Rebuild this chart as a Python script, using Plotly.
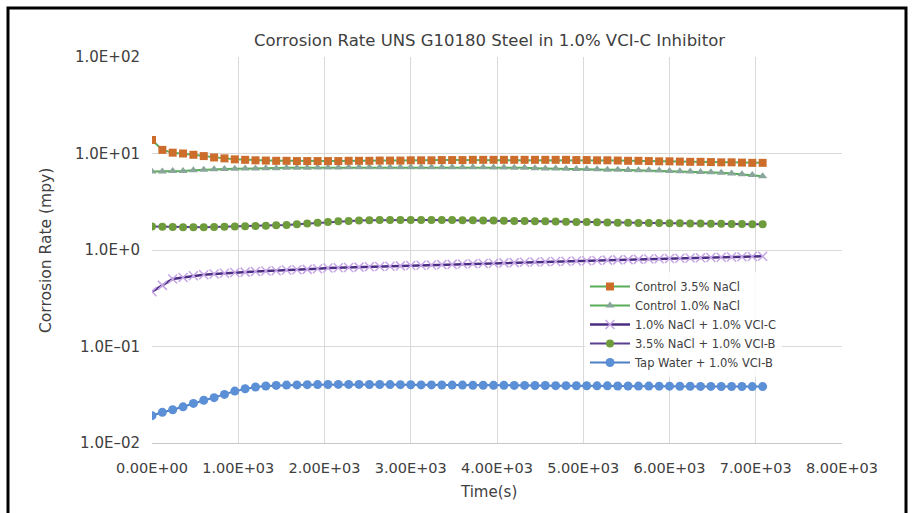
import plotly.graph_objects as go

# Sampling times (s)
time_s = [0, 120, 240, 360, 480, 600, 720, 840, 960, 1080,
          1200, 1320, 1440, 1560, 1680, 1800, 1920, 2040, 2160, 2280,
          2400, 2520, 2640, 2760, 2880, 3000, 3120, 3240, 3360, 3480,
          3600, 3720, 3840, 3960, 4080, 4200, 4320, 4440, 4560, 4680,
          4800, 4920, 5040, 5160, 5280, 5400, 5520, 5640, 5760, 5880,
          6000, 6120, 6240, 6360, 6480, 6600, 6720, 6840, 6960, 7080]

# Corrosion rates (mpy)
control_35_nacl = [13.8, 10.9, 10.2, 10.0, 9.7, 9.4, 9.1, 8.9, 8.7, 8.6,
                   8.5, 8.45, 8.4, 8.4, 8.35, 8.35, 8.35, 8.35, 8.35, 8.4,
                   8.4, 8.4, 8.45, 8.45, 8.45, 8.5, 8.5, 8.5, 8.55, 8.55,
                   8.55, 8.6, 8.6, 8.6, 8.6, 8.6, 8.6, 8.6, 8.6, 8.6,
                   8.6, 8.55, 8.55, 8.5, 8.5, 8.45, 8.4, 8.4, 8.35, 8.3,
                   8.3, 8.25, 8.2, 8.2, 8.15, 8.1, 8.1, 8.05, 8.0, 8.0]

control_10_nacl = [6.5, 6.5, 6.6, 6.6, 6.7, 6.8, 6.85, 6.9, 6.95, 7.0,
                   7.0, 7.05, 7.05, 7.1, 7.1, 7.1, 7.15, 7.15, 7.15, 7.2,
                   7.2, 7.2, 7.2, 7.2, 7.2, 7.2, 7.2, 7.2, 7.2, 7.2,
                   7.2, 7.2, 7.2, 7.15, 7.15, 7.1, 7.1, 7.05, 7.0, 7.0,
                   6.95, 6.9, 6.9, 6.85, 6.8, 6.8, 6.75, 6.7, 6.7, 6.65,
                   6.6, 6.55, 6.5, 6.45, 6.4, 6.3, 6.2, 6.1, 6.0, 5.8]

nacl_10_vci_c = [0.37, 0.43, 0.50, 0.52, 0.54, 0.555, 0.565, 0.575, 0.585, 0.59,
                 0.60, 0.605, 0.61, 0.62, 0.625, 0.63, 0.64, 0.65, 0.655, 0.66,
                 0.665, 0.67, 0.675, 0.68, 0.685, 0.69, 0.695, 0.70, 0.705, 0.71,
                 0.715, 0.72, 0.725, 0.73, 0.735, 0.74, 0.745, 0.75, 0.755, 0.76,
                 0.765, 0.77, 0.775, 0.78, 0.785, 0.79, 0.795, 0.80, 0.805, 0.81,
                 0.815, 0.82, 0.825, 0.83, 0.835, 0.84, 0.845, 0.85, 0.855, 0.86]

nacl_35_vci_b = [1.75, 1.74, 1.73, 1.72, 1.72, 1.72, 1.73, 1.74, 1.75, 1.76,
                 1.77, 1.78, 1.80, 1.82, 1.85, 1.88, 1.92, 1.95, 1.98, 2.0,
                 2.02, 2.03, 2.04, 2.05, 2.05, 2.05, 2.05, 2.05, 2.04, 2.04,
                 2.03, 2.03, 2.02, 2.02, 2.01, 2.0, 2.0, 1.99, 1.98, 1.97,
                 1.96, 1.95, 1.95, 1.94, 1.93, 1.92, 1.92, 1.91, 1.90, 1.90,
                 1.89, 1.89, 1.88, 1.88, 1.87, 1.87, 1.86, 1.86, 1.85, 1.85]

tap_water_vci_b = [0.0192, 0.0208, 0.0221, 0.0237, 0.0257, 0.0277, 0.0295, 0.0319, 0.0345, 0.0365,
                   0.0380, 0.0390, 0.0395, 0.0398, 0.0400, 0.0402, 0.0403, 0.0404, 0.0405, 0.0405,
                   0.0405, 0.0404, 0.0404, 0.0403, 0.0402, 0.0401, 0.0400, 0.0400, 0.0399, 0.0398,
                   0.0398, 0.0397, 0.0397, 0.0396, 0.0396, 0.0395, 0.0395, 0.0394, 0.0394, 0.0393,
                   0.0393, 0.0392, 0.0392, 0.0391, 0.0391, 0.0390, 0.0390, 0.0389, 0.0389, 0.0388,
                   0.0388, 0.0387, 0.0387, 0.0386, 0.0386, 0.0385, 0.0385, 0.0385, 0.0384, 0.0384]

x_ticks = [0, 1000, 2000, 3000, 4000, 5000, 6000, 7000, 8000]
x_tick_labels = ["0.00E+00", "1.00E+03", "2.00E+03", "3.00E+03", "4.00E+03",
                 "5.00E+03", "6.00E+03", "7.00E+03", "8.00E+03"]
y_ticks = [0.01, 0.1, 1, 10, 100]
y_tick_labels = ["1.0E\u201302", "1.0E\u201301", "1.0E+0", "1.0E+01", "1.0E+02"]

FONT = "DejaVu Sans"
TEXT = "#404040"

fig = go.Figure()

# drawn bottom-up so the control series sit on top
fig.add_trace(go.Scatter(
    x=time_s, y=tap_water_vci_b, name="Tap Water + 1.0% VCI-B", mode="lines+markers",
    line=dict(color="#4f7fc4", width=2),
    marker=dict(symbol="circle", size=9, color="#5b8fd6"),
    legendrank=5))
fig.add_trace(go.Scatter(
    x=time_s, y=nacl_35_vci_b, name="3.5% NaCl + 1.0% VCI-B", mode="lines+markers",
    line=dict(color="#5a3f8f", width=2),
    marker=dict(symbol="circle", size=8, color="#6e9b3c"),
    legendrank=4))
fig.add_trace(go.Scatter(
    x=time_s, y=nacl_10_vci_c, name="1.0% NaCl + 1.0% VCI-C", mode="lines+markers",
    line=dict(color="#4b2e83", width=2.5),
    marker=dict(symbol="x-thin", size=9, line=dict(color="#c6a6e6", width=1.5)),
    legendrank=3))
fig.add_trace(go.Scatter(
    x=time_s, y=control_10_nacl, name="Control 1.0% NaCl", mode="lines+markers",
    line=dict(color="#5aac5a", width=2),
    marker=dict(symbol="triangle-up", size=8, color="#8aa69a"),
    legendrank=2))
fig.add_trace(go.Scatter(
    x=time_s, y=control_35_nacl, name="Control 3.5% NaCl", mode="lines+markers",
    line=dict(color="#5aac5a", width=2),
    marker=dict(symbol="square", size=8, color="#cc6d2c"),
    legendrank=1))

# plot-area geometry in pixels
L, R, T, B = 152, 842, 57, 443
W, H = R - L, B - T


def px(xp):
    return (xp - L) / W


def py(yp):
    return (B - yp) / H


fig.update_layout(
    width=912, height=513,
    margin=dict(l=L, r=912 - R, t=T, b=513 - B),
    paper_bgcolor="white", plot_bgcolor="white",
    font=dict(family=FONT, color=TEXT),
    showlegend=True,
    legend=dict(
        x=px(585), y=py(272), xanchor="left", yanchor="top",
        bgcolor="rgba(255,255,255,0.85)",
        font=dict(family=FONT, size=11.5, color=TEXT),
        tracegroupgap=0, itemwidth=40,
    ),
    xaxis=dict(
        range=[0, 8000], tickvals=x_ticks, ticktext=x_tick_labels,
        showgrid=True, gridcolor="#d9d9d9", gridwidth=1,
        showline=True, linecolor="#c8c8c8", linewidth=1,
        zeroline=False, ticks="", ticklabelstandoff=12,
        tickfont=dict(family=FONT, size=14.5, color=TEXT),
    ),
    yaxis=dict(
        type="log", range=[-2, 2], tickvals=y_ticks, ticktext=y_tick_labels,
        showgrid=True, gridcolor="#d9d9d9", gridwidth=1,
        showline=False, zeroline=False, ticks="", ticklabelstandoff=11,
        tickfont=dict(family=FONT, size=15, color=TEXT),
    ),
    annotations=[
        dict(text="Corrosion Rate UNS G10180 Steel in 1.0% VCI-C Inhibitor",
             x=px(489), y=py(40), xref="paper", yref="paper",
             xanchor="center", yanchor="middle",
             showarrow=False, font=dict(family=FONT, size=16.5, color=TEXT)),
        dict(text="Corrosion Rate (mpy)", textangle=-90,
             x=px(46), y=py(250), xref="paper", yref="paper",
             xanchor="center", yanchor="middle",
             showarrow=False, font=dict(family=FONT, size=15.5, color=TEXT)),
        dict(text="Time(s)", x=px(488), y=py(492), xref="paper", yref="paper",
             xanchor="center", yanchor="middle",
             showarrow=False, font=dict(family=FONT, size=15, color=TEXT)),
    ],
    shapes=[
        dict(type="path", xref="paper", yref="paper",
             path=f"M {px(8)} {py(520)} L {px(8)} {py(8)} L {px(906)} {py(8)} L {px(906)} {py(520)}",
             line=dict(color="black", width=3)),
    ],
)

fig.write_html("out.html")
